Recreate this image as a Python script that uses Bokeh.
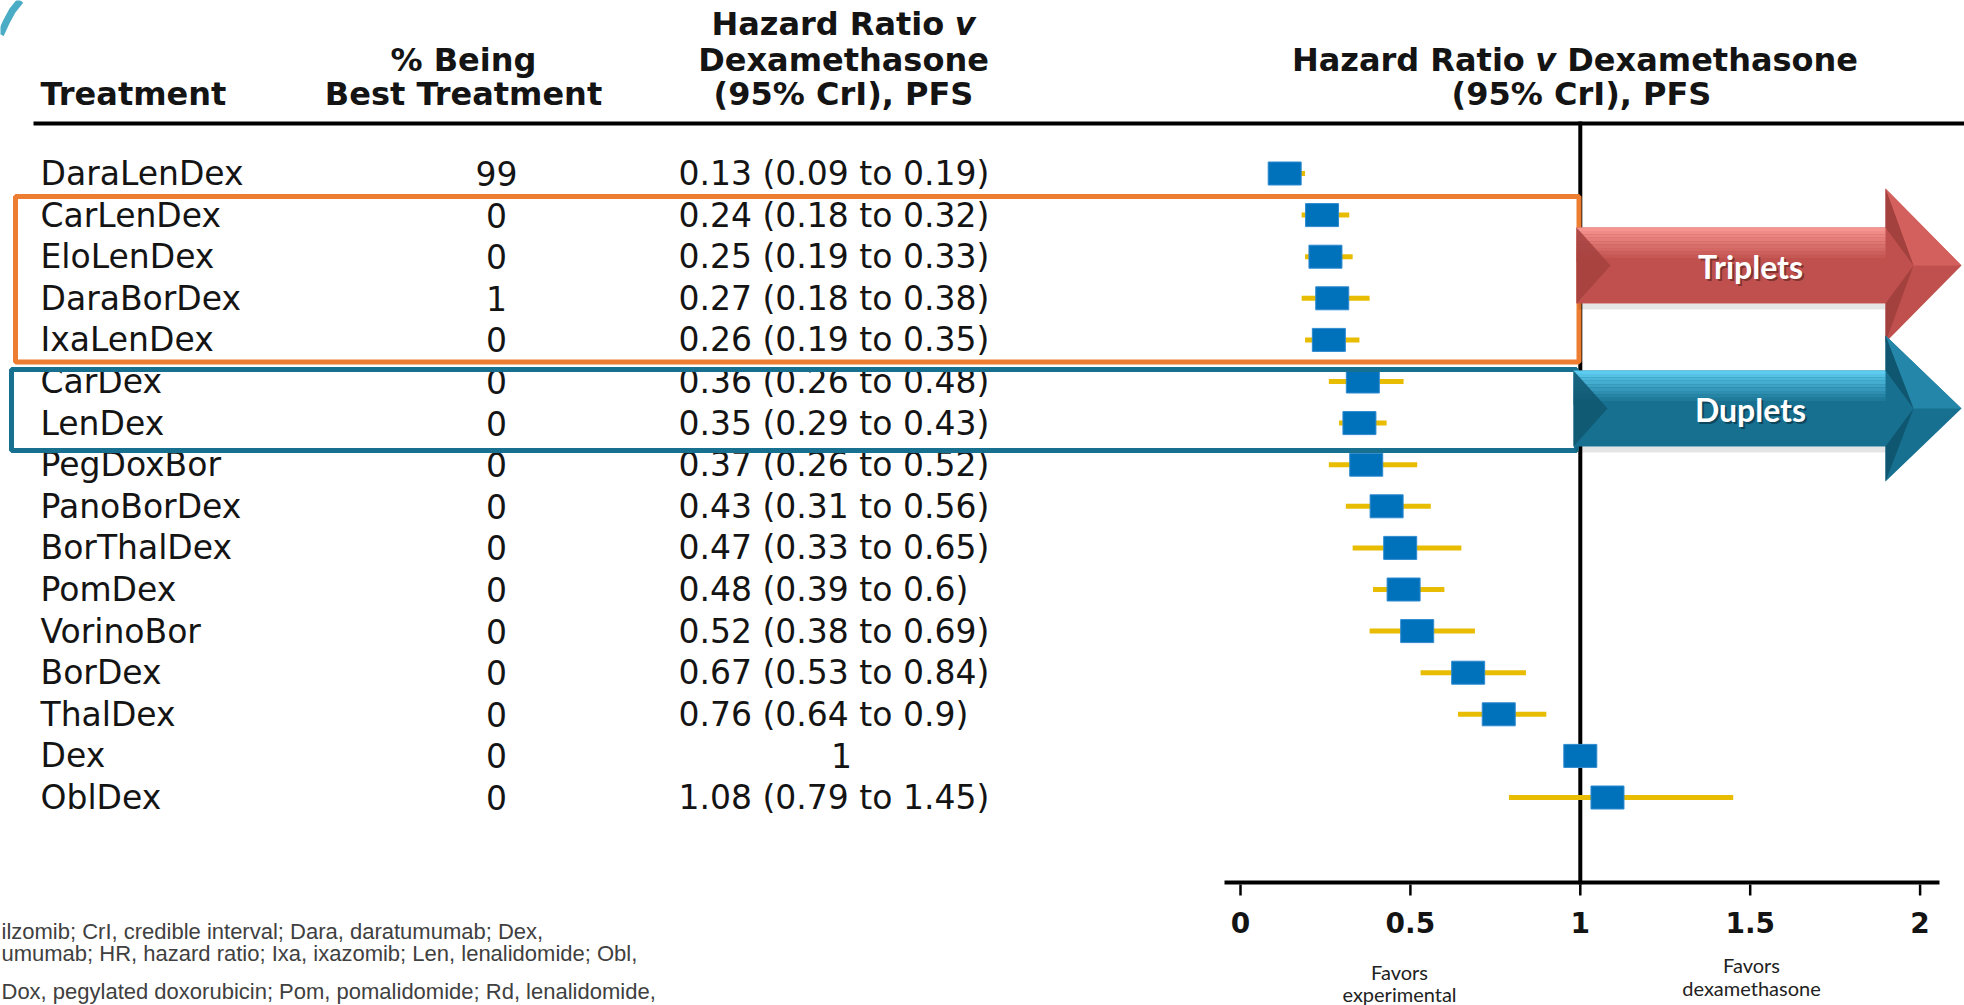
from bokeh.plotting import figure
from bokeh.models import Range1d, ColumnDataSource
from bokeh.core.properties import value
from bokeh.embed import file_html
from bokeh.resources import INLINE

# ---------------- data ----------------
treatments = ["DaraLenDex", "CarLenDex", "EloLenDex", "DaraBorDex", "IxaLenDex",
              "CarDex", "LenDex", "PegDoxBor", "PanoBorDex", "BorThalDex",
              "PomDex", "VorinoBor", "BorDex", "ThalDex", "Dex", "OblDex"]
pct_best = [99, 0, 0, 1, 0, 0, 0, 0, 0, 0, 0, 0, 0, 0, 0, 0]
hr = [0.13, 0.24, 0.25, 0.27, 0.26, 0.36, 0.35, 0.37, 0.43, 0.47, 0.48, 0.52, 0.67, 0.76, 1.0, 1.08]
hr_low = [0.09, 0.18, 0.19, 0.18, 0.19, 0.26, 0.29, 0.26, 0.31, 0.33, 0.39, 0.38, 0.53, 0.64, 1.0, 0.79]
hr_high = [0.19, 0.32, 0.33, 0.38, 0.35, 0.48, 0.43, 0.52, 0.56, 0.65, 0.60, 0.69, 0.84, 0.90, 1.0, 1.45]
hr_text = ["0.13 (0.09 to 0.19)", "0.24 (0.18 to 0.32)", "0.25 (0.19 to 0.33)",
           "0.27 (0.18 to 0.38)", "0.26 (0.19 to 0.35)", "0.36 (0.26 to 0.48)",
           "0.35 (0.29 to 0.43)", "0.37 (0.26 to 0.52)", "0.43 (0.31 to 0.56)",
           "0.47 (0.33 to 0.65)", "0.48 (0.39 to 0.6)", "0.52 (0.38 to 0.69)",
           "0.67 (0.53 to 0.84)", "0.76 (0.64 to 0.9)", "1", "1.08 (0.79 to 1.45)"]
tick_values = [0, 0.5, 1, 1.5, 2]
tick_labels = ["0", "0.5", "1", "1.5", "2"]
reference_hr = 1.0
groups = ["Triplets", "Duplets"]

footnote = ["ilzomib;  CrI,  credible  interval;  Dara,  daratumumab;  Dex,",
            "umumab;  HR,  hazard  ratio;  Ixa,  ixazomib;  Len,  lenalidomide;  Obl,",
            "Dox,  pegylated  doxorubicin;  Pom,  pomalidomide;  Rd,  lenalidomide,"]

# ---------------- layout helpers (reference pixels -> data units) ----------------
W, H = 1964, 1005
OX, SX = 1240.0, 339.8     # x pixel of HR = 0, pixels per HR unit
OY, SY = 173.0, 41.6       # y pixel of first row, pixels per row


def X(px):
    return (px - OX) / SX


def Y(py):
    return (py - OY) / SY


p = figure(width=W, height=H,
           x_range=Range1d(X(0), X(W)), y_range=Range1d(Y(H), Y(0)),
           output_backend="svg", toolbar_location=None, min_border=0,
           x_axis_location=None, y_axis_location=None)
p.grid.visible = False
p.outline_line_color = None
p.background_fill_color = "white"
p.border_fill_color = "white"

TXT = "#141414"


def txt(x, y, s, size, align="left", style="normal", color=TXT, font="DejaVu Sans", alpha=1.0):
    p.text(x=[x], y=[y], text=[s], text_font=value(font), text_font_size=f"{size}px",
           text_align=align, text_baseline="middle", text_color=color,
           text_font_style=style, text_alpha=alpha)


# decorative slide arc at the top-left corner
p.line([X(0), X(6), X(12), X(20)], [Y(34), Y(21), Y(10), Y(0)], line_width=7, line_color="#4BACC6")

# ---------------- headers ----------------
HS = 32
txt(X(40), Y(93), "Treatment", HS, style="bold")
txt(X(463), Y(59), "% Being", HS, align="center", style="bold")
txt(X(463), Y(93), "Best Treatment", HS, align="center", style="bold")

em = HS
w_hr = 7.605 * em        # "Hazard Ratio " width estimate
w_v = 0.652 * em
x0 = 843 - (w_hr + w_v) / 2
txt(X(x0), Y(23), "Hazard Ratio", HS, style="bold")
txt(X(x0 + w_hr), Y(23), "v", HS, style="bold italic")
txt(X(843), Y(59), "Dexamethasone", HS, align="center", style="bold")
txt(X(843), Y(93), "(95% CrI), PFS", HS, align="center", style="bold")

full = 18.098 * em
x0r = 1581 - full / 2
txt(X(x0r), Y(59), "Hazard Ratio", HS, style="bold")
txt(X(x0r + w_hr), Y(59), "v", HS, style="bold italic")
txt(X(x0r + w_hr + w_v + 0.348 * em), Y(59), "Dexamethasone", HS, style="bold")
txt(X(1581), Y(93), "(95% CrI), PFS", HS, align="center", style="bold")

# ---------------- rules ----------------
p.segment(x0=[X(33)], y0=[Y(123)], x1=[X(1975)], y1=[Y(123)], line_width=4, line_color="black")
p.segment(x0=[reference_hr], y0=[Y(121)], x1=[reference_hr], y1=[Y(884)],
          line_width=4, line_color="black")

# ---------------- table rows ----------------
rows = list(range(len(treatments)))
RS = 33
src = ColumnDataSource(dict(y=rows, name=treatments, pct=[str(v) for v in pct_best]))
p.text(x=X(40), y="y", text="name", source=src, text_font=value("DejaVu Sans"),
       text_font_size=f"{RS}px", text_align="left", text_baseline="middle", text_color=TXT)
p.text(x=X(496), y="y", text="pct", source=src, text_font=value("DejaVu Sans"),
       text_font_size=f"{RS}px", text_align="center", text_baseline="middle", text_color=TXT)

ci_rows = [i for i in rows if "(" in hr_text[i]]
pt_rows = [i for i in rows if "(" not in hr_text[i]]
p.text(x=X(678), y=ci_rows, text=[hr_text[i] for i in ci_rows], text_font=value("DejaVu Sans"),
       text_font_size=f"{RS}px", text_align="left", text_baseline="middle", text_color=TXT)
p.text(x=X(841), y=pt_rows, text=[hr_text[i] for i in pt_rows], text_font=value("DejaVu Sans"),
       text_font_size=f"{RS}px", text_align="center", text_baseline="middle", text_color=TXT)

# ---------------- forest marks ----------------
fsrc = ColumnDataSource(dict(y=rows, hr=hr, lo=hr_low, hi=hr_high))
p.segment(x0="lo", y0="y", x1="hi", y1="y", source=fsrc, line_width=5, line_color="#E8BC00")
p.rect(x="hr", y="y", width=33, height=23, width_units="screen", height_units="screen",
       source=fsrc, fill_color="#0072BC", line_color="#2F8AD0", line_width=1)

# ---------------- x axis (drawn on the HR scale) ----------------
p.segment(x0=[X(1224)], y0=[Y(882)], x1=[X(1939)], y1=[Y(882)], line_width=4, line_color="black")
p.segment(x0=tick_values, y0=Y(884), x1=tick_values, y1=Y(895), line_width=2.5, line_color="black")
p.text(x=tick_values, y=Y(922), text=tick_labels, text_font=value("DejaVu Sans"),
       text_font_size="28px", text_font_style="bold", text_align="center",
       text_baseline="middle", text_color=TXT)

txt(X(1399), Y(971), "Favors", 20, align="center", font="Lato", color="#222222")
txt(X(1399), Y(993), "experimental", 20, align="center", font="Lato", color="#222222")
txt(X(1751), Y(964), "Favors", 20, align="center", font="Lato", color="#222222")
txt(X(1751), Y(987), "dexamethasone", 20, align="center", font="Lato", color="#222222")

# ---------------- group boxes ----------------
p.quad(left=[X(15)], right=[X(1578.5)], top=[Y(196)], bottom=[Y(361.5)],
       fill_alpha=0, line_color="#ED7D31", line_width=5)
p.quad(left=[X(11)], right=[X(1576)], top=[Y(369)], bottom=[Y(450)],
       fill_alpha=0, line_color="#17708F", line_width=5)


# ---------------- arrows ----------------
def hexmix(c1, c2, t):
    a = [int(c1[i:i + 2], 16) for i in (1, 3, 5)]
    b = [int(c2[i:i + 2], 16) for i in (1, 3, 5)]
    return "#" + "".join(f"{round(a[k] + (b[k] - a[k]) * t):02x}" for k in range(3))


def arrow(xl, xb, xt, yc, bh, hh, main, light, dark, facet, label, shadow):
    # drop shadow
    p.quad(left=[X(xl + 2)], right=[X(xb)], top=[Y(yc + bh)], bottom=[Y(yc + bh + 6)],
           fill_color="black", fill_alpha=0.10, line_color=None)
    xs = [xl, xb, xb, xt, xb, xb, xl]
    ys = [yc - bh, yc - bh, yc - hh, yc, yc + hh, yc + bh, yc + bh]
    p.patch([X(v) for v in xs], [Y(v) for v in ys], fill_color=main, line_color=None)
    # top highlight gradient on body
    n = 10
    top = yc - bh
    depth = bh * 0.9
    for k in range(n):
        y1 = top + depth * k / n
        y2 = top + depth * (k + 1) / n
        p.quad(left=[X(xl)], right=[X(xb)], top=[Y(y1)], bottom=[Y(y2)],
               fill_color=hexmix(light, main, k / (n - 1)), line_color=None)
    # head facets
    px_ = xb + 28
    p.patch([X(xb), X(xt), X(px_)], [Y(yc - hh), Y(yc), Y(yc)], fill_color=facet, line_color=None)
    p.patch([X(xb), X(px_), X(xb)], [Y(yc - hh), Y(yc), Y(yc - bh)], fill_color=dark, line_color=None)
    p.patch([X(xb), X(px_), X(xb)], [Y(yc + bh), Y(yc), Y(yc + hh)], fill_color=dark, line_color=None)
    # left bevel
    p.patch([X(xl), X(xl + 34), X(xl)], [Y(yc - bh), Y(yc), Y(yc + bh)],
            fill_color=dark, fill_alpha=0.85, line_color=None)
    txt(X(1752), Y(yc + 3), label, 32, align="center", style="bold", font="Lato",
        color=shadow, alpha=0.55)
    txt(X(1750), Y(yc + 1), label, 32, align="center", style="bold", font="Lato", color="white")


arrow(1576, 1885, 1961, 265, 38, 77, "#C0504D", "#F6948F", "#A3413E", "#D3605C", groups[0], "#4A1A18")
arrow(1573, 1885, 1961, 408, 38, 73, "#17708F", "#5CCBF0", "#0F5670", "#2486A8", groups[1], "#062432")

# ---------------- footnote ----------------
for i, line in enumerate(footnote):
    txt(X(1), Y([931, 953, 991][i]), line, 22, font="Liberation Sans", color="#404040")

open("out.html", "w").write(file_html(p, INLINE))
